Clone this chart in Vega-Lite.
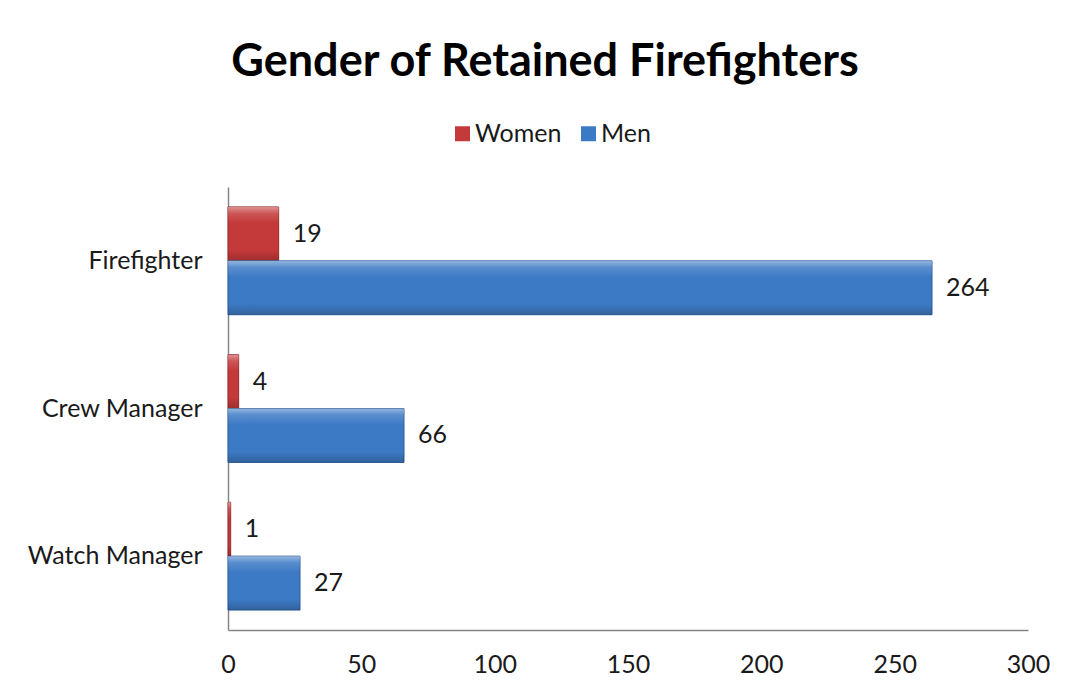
{
  "$schema": "https://vega.github.io/schema/vega-lite/v6.json",
  "width": 800,
  "height": 443,
  "autosize": {"type": "none"},
  "padding": {"left": 228, "top": 187, "right": 38, "bottom": 64},
  "background": "white",
  "config": {
    "font": "Lato",
    "view": {"stroke": null}
  },
  "title": {
    "text": "Gender of Retained Firefighters",
    "font": "Lato",
    "fontSize": 45,
    "fontWeight": "bold",
    "color": "#000000",
    "anchor": "middle",
    "dx": -83,
    "offset": 36
  },
  "data": {
    "values": [
      {"role": "Firefighter", "gender": "Women", "count": 19},
      {"role": "Firefighter", "gender": "Men", "count": 264},
      {"role": "Crew Manager", "gender": "Women", "count": 4},
      {"role": "Crew Manager", "gender": "Men", "count": 66},
      {"role": "Watch Manager", "gender": "Women", "count": 1},
      {"role": "Watch Manager", "gender": "Men", "count": 27}
    ]
  },
  "encoding": {
    "y": {
      "field": "role",
      "type": "nominal",
      "sort": ["Firefighter", "Crew Manager", "Watch Manager"],
      "scale": {"paddingInner": 0.27, "paddingOuter": 0.135},
      "axis": {
        "title": null,
        "ticks": false,
        "labelPadding": 26,
        "labelFontSize": 25,
        "labelColor": "#1a1a1a",
        "domainColor": "#868686",
        "domainWidth": 1.5
      }
    },
    "yOffset": {
      "field": "gender",
      "type": "nominal",
      "sort": ["Women", "Men"],
      "scale": {"padding": 0}
    },
    "x": {
      "field": "count",
      "type": "quantitative",
      "scale": {"domain": [0, 300], "nice": false},
      "axis": {
        "title": null,
        "values": [0, 50, 100, 150, 200, 250, 300],
        "grid": false,
        "ticks": false,
        "labelFlush": false,
        "labelPadding": 22,
        "labelFontSize": 25,
        "labelColor": "#1a1a1a",
        "domainColor": "#868686",
        "domainWidth": 1.5
      }
    }
  },
  "layer": [
    {
      "mark": {"type": "bar", "strokeWidth": 1, "cornerRadius": 0},
      "encoding": {
        "color": {
          "field": "gender",
          "type": "nominal",
          "sort": ["Women", "Men"],
          "scale": {"domain": ["Women", "Men"], "range": ["#C4393A", "#3D7AC5"]},
          "legend": {
            "title": null,
            "orient": "none",
            "direction": "horizontal",
            "legendX": 222,
            "legendY": -66,
            "symbolType": "square",
            "symbolSize": 225,
            "symbolStrokeWidth": 0,
            "labelFontSize": 25,
            "labelColor": "#1a1a1a",
            "columnPadding": 14,
            "labelOffset": 0
          }
        },
        "stroke": {
          "field": "gender",
          "type": "nominal",
          "scale": {"domain": ["Women", "Men"], "range": ["#9A2A2C", "#2D5F9E"]},
          "legend": null
        }
      }
    },
    {
      "mark": {
        "type": "bar",
        "strokeWidth": 0,
        "fill": {
          "gradient": "linear",
          "x1": 0, "y1": 0, "x2": 0, "y2": 1,
          "stops": [
            {"offset": 0, "color": "rgba(255,255,255,0.45)"},
            {"offset": 0.12, "color": "rgba(255,255,255,0.15)"},
            {"offset": 0.3, "color": "rgba(255,255,255,0)"},
            {"offset": 0.8, "color": "rgba(0,0,0,0)"},
            {"offset": 1, "color": "rgba(0,0,0,0.2)"}
          ]
        }
      },
      "encoding": {}
    },
    {
      "mark": {"type": "text", "align": "left", "baseline": "middle", "dx": 14, "fontSize": 25, "color": "#1a1a1a"},
      "encoding": {
        "text": {"field": "count", "type": "quantitative"}
      }
    }
  ]
}
